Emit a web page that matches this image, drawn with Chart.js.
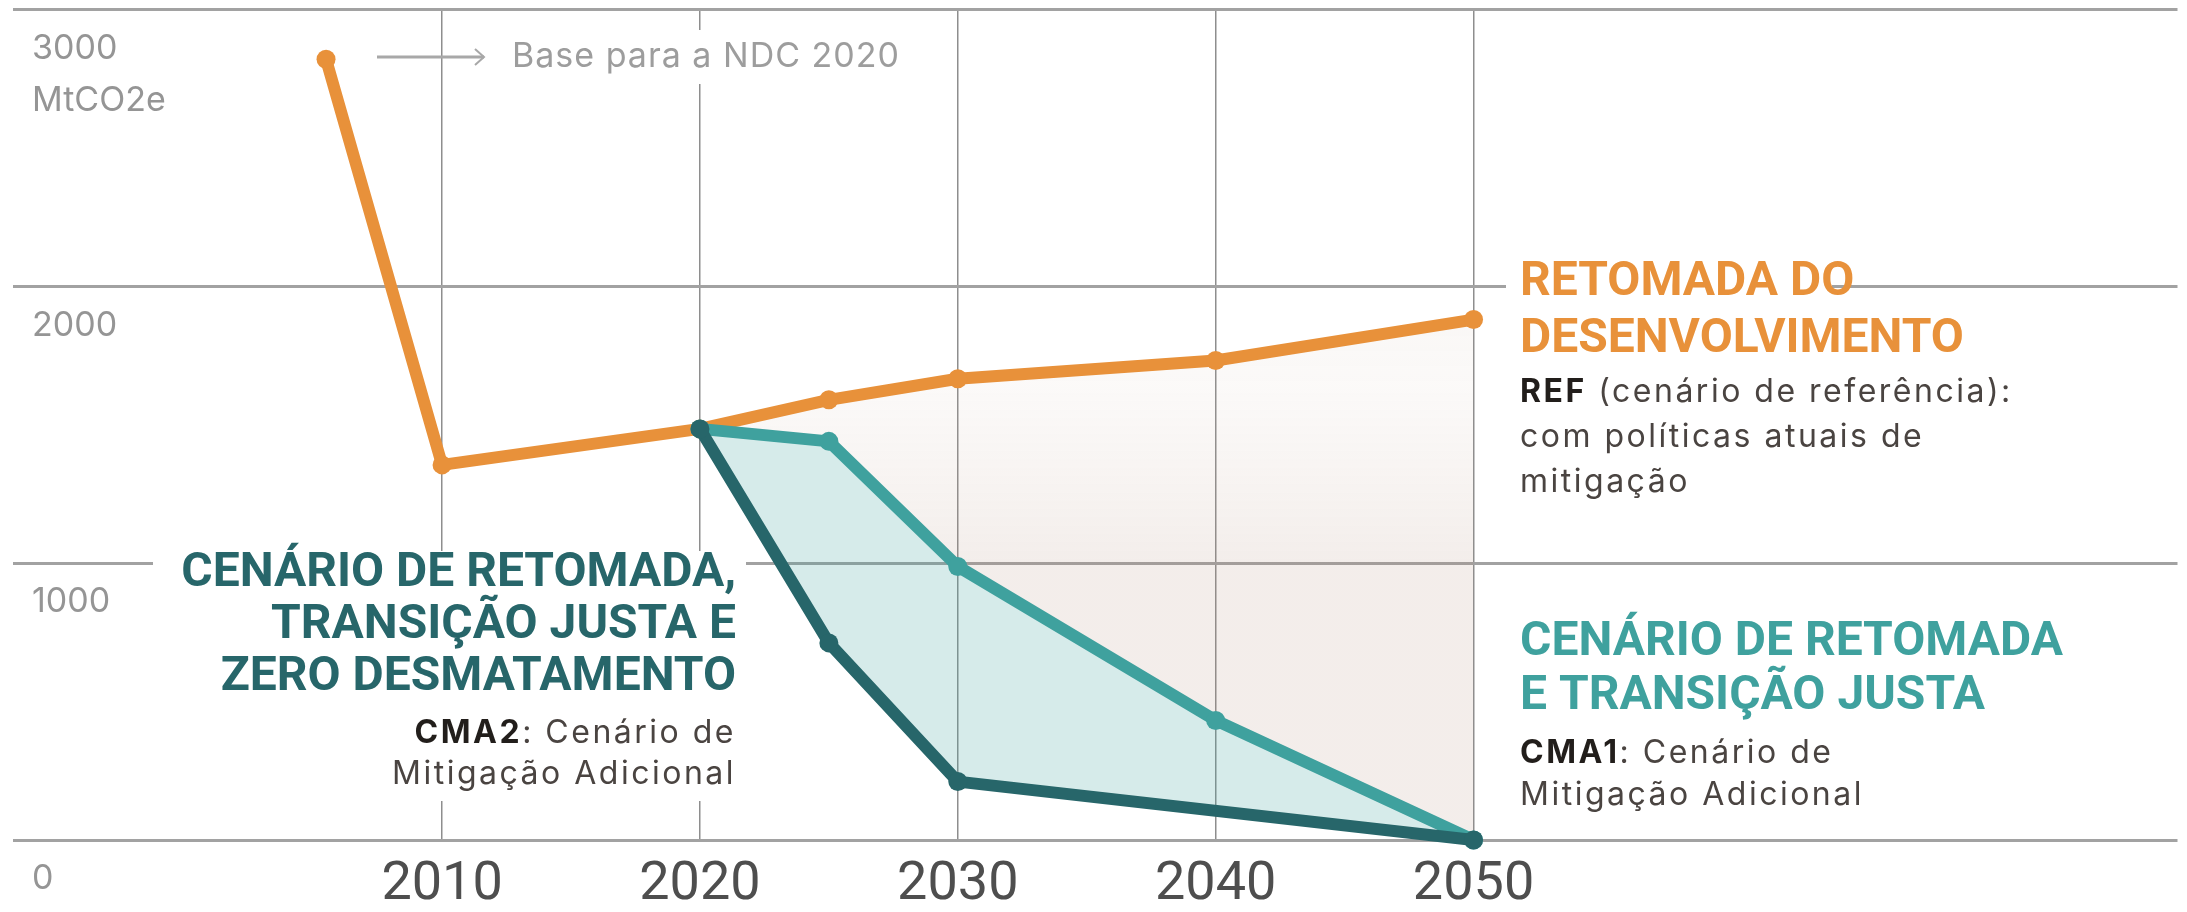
<!DOCTYPE html>
<html><head><meta charset="utf-8">
<script src="https://cdn.jsdelivr.net/npm/chart.js@4.4.1/dist/chart.umd.min.js"></script>
<style>html,body{margin:0;padding:0;background:#fff;overflow:hidden}</style>
</head><body>
<canvas id="c" width="2187" height="912"></canvas>
<script>
// ---- data ----
const refYears   = [2005.5, 2010, 2020, 2025, 2030, 2040, 2050];
const refValues  = [2820, 1355, 1485, 1590, 1666, 1732, 1880];
const cma1Years  = [2020, 2025, 2030, 2040, 2050];
const cma1Values = [1485, 1440, 988, 432, 0];
const cma2Years  = [2020, 2025, 2030, 2050];
const cma2Values = [1485, 712, 211, 0];
const xTickYears = [2010, 2020, 2030, 2040, 2050];
const yTickValues = [0, 1000, 2000, 3000];
const yUnitLabel = 'MtCO2e';
const ndcNote = 'Base para a NDC 2020';
const refTitle = ['RETOMADA DO', 'DESENVOLVIMENTO'];
const refDesc = [[['REF', true], [' (cenário de referência):', false]], [['com políticas atuais de', false]], [['mitigação', false]]];
const cma1Title = ['CENÁRIO DE RETOMADA', 'E TRANSIÇÃO JUSTA'];
const cma1Desc = [[['CMA1', true], [': Cenário de', false]], [['Mitigação Adicional', false]]];
const cma2Title = ['CENÁRIO DE RETOMADA,', 'TRANSIÇÃO JUSTA E', 'ZERO DESMATAMENTO'];
const cma2Desc = [[['CMA2', true], [': Cenário de', false]], [['Mitigação Adicional', false]]];

const pts = (xs, ys) => xs.map((x, i) => ({x: x, y: ys[i]}));

const ORANGE = '#e8913a', TEAL = '#3fa19e', DARK = '#27666a';
const HEAD_FONT = '700 48px Roboto';
const BODY_FONT = '400 32px Inter';
const BODY_BOLD = '700 32px Inter';
const BODY_SPACING = '2.5px';

function richLine(c, parts, x, y, align) {
  c.letterSpacing = BODY_SPACING;
  let total = 0;
  parts.forEach(p => { c.font = p[1] ? BODY_BOLD : BODY_FONT; total += c.measureText(p[0]).width; });
  let cx = align === 'right' ? x - total : x;
  c.textAlign = 'left';
  parts.forEach(p => {
    c.font = p[1] ? BODY_BOLD : BODY_FONT;
    c.fillStyle = p[1] ? '#221e1b' : '#4a4441';
    c.fillText(p[0], cx, y);
    cx += c.measureText(p[0]).width;
  });
  c.letterSpacing = '0px';
}

const annotations = {
  id: 'annotations',
  beforeDatasetsDraw(chart) {
    const c = chart.ctx;
    const ys = chart.scales.y;
    c.save();
    // white backgrounds behind text blocks (cut grid lines)
    c.fillStyle = '#fff';
    c.fillRect(505, 30, 412, 54);
    c.fillRect(153, 551, 593, 250);
    c.fillRect(1506, 262, 326, 40);
    // unit label under the 3000 tick
    c.font = '400 34px Inter';
    c.fillStyle = '#959595';
    c.textBaseline = 'middle';
    c.textAlign = 'left';
    c.fillText(yUnitLabel, 32, ys.getPixelForValue(3000) + 39 + 52);
    // arrow + note
    c.strokeStyle = '#a8a8a8';
    c.lineWidth = 3;
    c.beginPath(); c.moveTo(377, 57); c.lineTo(484, 57); c.stroke();
    c.lineWidth = 2;
    c.beginPath(); c.moveTo(475, 49); c.lineTo(484, 57); c.lineTo(475, 65); c.stroke();
    c.fillStyle = '#9d9d9d';
    c.font = '400 34px Inter';
    c.letterSpacing = '1px';
    c.fillText(ndcNote, 512, 57);
    c.letterSpacing = '0px';
    // titles
    c.textBaseline = 'alphabetic';
    c.font = HEAD_FONT;
    c.fillStyle = ORANGE; c.textAlign = 'left';
    refTitle.forEach((t, i) => c.fillText(t, 1520, 295 + i * 57));
    refDesc.forEach((l, i) => richLine(c, l, 1520, 402 + i * 45, 'left'));
    c.font = HEAD_FONT; c.fillStyle = TEAL; c.textAlign = 'left';
    cma1Title.forEach((t, i) => c.fillText(t, 1520, 655 + i * 54));
    cma1Desc.forEach((l, i) => richLine(c, l, 1520, 763 + i * 42, 'left'));
    c.font = HEAD_FONT; c.fillStyle = DARK; c.textAlign = 'right';
    cma2Title.forEach((t, i) => c.fillText(t, 736, 586 + i * 52));
    cma2Desc.forEach((l, i) => richLine(c, l, 736, 743 + i * 41, 'right'));
    c.restore();
  }
};

function beigeFill(ctx) {
  const chart = ctx.chart;
  if (!chart.chartArea) return 'rgba(170,130,110,0.13)';
  const y = chart.scales.y;
  const g = chart.ctx.createLinearGradient(0, y.getPixelForValue(1900), 0, y.getPixelForValue(1000));
  g.addColorStop(0, 'rgba(190,160,140,0.08)');
  g.addColorStop(0.3, 'rgba(190,160,140,0.06)');
  g.addColorStop(1, 'rgba(170,130,110,0.14)');
  return g;
}

const lineStyle = (color) => ({
  borderColor: color, backgroundColor: color,
  pointBackgroundColor: color, pointBorderWidth: 0, pointRadius: 9.5,
  borderWidth: 12, borderJoinStyle: 'round', borderCapStyle: 'round',
  tension: 0, clip: false
});

new Chart(document.getElementById('c'), {
  type: 'line',
  data: {
    datasets: [
      Object.assign(lineStyle(DARK), {label: 'CMA2', data: pts(cma2Years, cma2Values), order: 0, fill: false}),
      Object.assign(lineStyle(TEAL), {label: 'CMA1', data: pts(cma1Years, cma1Values), order: 1,
        fill: {target: 0, above: 'rgba(63,161,158,0.21)', below: 'rgba(63,161,158,0.21)'}}),
      Object.assign(lineStyle(ORANGE), {label: 'REF', data: pts(refYears, refValues), order: 2,
        fill: {target: 1}, backgroundColor: beigeFill})
    ]
  },
  options: {
    responsive: false, animation: false, events: [],
    layout: {padding: {left: 13, right: 0, top: 8, bottom: 0}},
    plugins: {legend: {display: false}, tooltip: {enabled: false}},
    scales: {
      x: {
        type: 'linear', min: 1993.36, max: 2077.3,
        afterBuildTicks: s => { s.ticks = xTickYears.map(v => ({value: v})); },
        afterFit: s => { s.height = 72; s.paddingLeft = 0; s.paddingRight = 0; },
        border: {display: false},
        grid: {color: '#8e8e8e', lineWidth: 1.5, drawTicks: false},
        ticks: {font: {family: 'Roboto', size: 54}, color: '#4e4e4e', padding: 13, maxRotation: 0,
          callback: v => String(v)}
      },
      y: {
        type: 'linear', min: 0, max: 3000,
        afterBuildTicks: s => { s.ticks = yTickValues.map(v => ({value: v})); },
        afterFit: s => { s.width = 0; s.paddingTop = 0; s.paddingBottom = 0; },
        border: {display: false},
        grid: {color: '#a2a2a2', lineWidth: 3, drawTicks: false},
        ticks: {mirror: true, padding: 19, labelOffset: 39, font: {family: 'Inter', size: 34},
          color: '#959595', callback: v => String(v)}
      }
    }
  },
  plugins: [annotations]
});
</script>
</body></html>
